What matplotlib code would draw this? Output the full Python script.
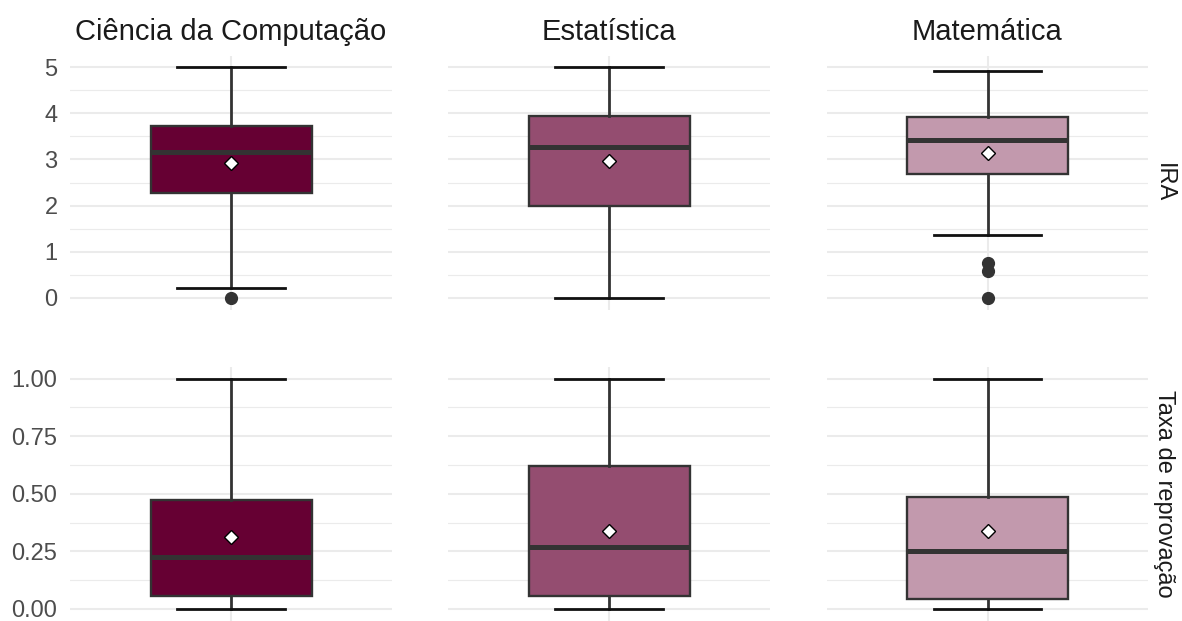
import matplotlib
matplotlib.use("Agg")
import matplotlib.pyplot as plt

plt.rcParams['font.family'] = ['Liberation Sans', 'DejaVu Sans']

cursos = ["Ciência da Computação", "Estatística", "Matemática"]
cores = ["#660033", "#944D70", "#C299AD"]
variaveis = ["IRA", "Taxa de reprovação"]

# IRA summary per course
ira_q1 = [2.27, 1.99, 2.69]
ira_med = [3.17, 3.27, 3.41]
ira_q3 = [3.72, 3.94, 3.92]
ira_whislo = [0.21, 0.0, 1.36]
ira_whishi = [5.0, 5.0, 4.91]
ira_mean = [2.92, 2.97, 3.13]
ira_fliers = [[0.0], [], [0.76, 0.59, 0.0]]

# Failure-rate summary per course
taxa_q1 = [0.057, 0.055, 0.045]
taxa_med = [0.227, 0.27, 0.25]
taxa_q3 = [0.473, 0.62, 0.486]
taxa_whislo = [0.0, 0.0, 0.0]
taxa_whishi = [1.0, 1.0, 1.0]
taxa_mean = [0.312, 0.34, 0.34]
taxa_fliers = [[], [], []]

ira_ticks = [0, 1, 2, 3, 4, 5]
ira_ticklabels = ["0", "1", "2", "3", "4", "5"]
taxa_ticks = [0.0, 0.25, 0.5, 0.75, 1.0]
taxa_ticklabels = ["0.00", "0.25", "0.50", "0.75", "1.00"]

W, H = 1182, 621
fig = plt.figure(figsize=(W / 100, H / 100), dpi=100)

col_px = [(70, 392), (448, 770), (827, 1148)]
row_px = [(55.5, 309.5), (367.0, 620.5)]

rows = [
    dict(q1=ira_q1, med=ira_med, q3=ira_q3, lo=ira_whislo, hi=ira_whishi,
         mean=ira_mean, fl=ira_fliers, ticks=ira_ticks, labels=ira_ticklabels,
         lim=(-0.25, 5.25), minor=0.5),
    dict(q1=taxa_q1, med=taxa_med, q3=taxa_q3, lo=taxa_whislo, hi=taxa_whishi,
         mean=taxa_mean, fl=taxa_fliers, ticks=taxa_ticks, labels=taxa_ticklabels,
         lim=(-0.05, 1.05), minor=0.125),
]

grid_col = "#EBEBEB"
for r, (rd, (top, bot)) in enumerate(zip(rows, row_px)):
    for c, (left, right) in enumerate(col_px):
        ax = fig.add_axes([left / W, 1 - bot / H, (right - left) / W, (bot - top) / H])
        ax.set_xlim(0.4, 1.6)
        ax.set_ylim(*rd["lim"])
        for s in ax.spines.values():
            s.set_visible(False)
        # major and minor grid lines
        for t in rd["ticks"]:
            ax.axhline(t, color=grid_col, lw=1.5, zorder=0)
        mt = rd["ticks"][0] + rd["minor"]
        while mt < rd["ticks"][-1]:
            ax.axhline(mt, color=grid_col, lw=0.8, zorder=0)
            mt += 2 * rd["minor"]
        ax.axvline(1, color=grid_col, lw=1.5, zorder=0)

        stats = [dict(med=rd["med"][c], q1=rd["q1"][c], q3=rd["q3"][c],
                      whislo=rd["lo"][c], whishi=rd["hi"][c],
                      mean=rd["mean"][c], fliers=rd["fl"][c])]
        ax.bxp(stats, positions=[1], widths=0.6, capwidths=0.4,
               patch_artist=True, showmeans=True, manage_ticks=False,
               boxprops=dict(facecolor=cores[c], edgecolor="#333333", lw=1.7),
               medianprops=dict(color="#333333", lw=3.6, solid_capstyle="butt"),
               whiskerprops=dict(color="#333333", lw=2.0),
               capprops=dict(color="#111111", lw=2.0),
               meanprops=dict(marker="D", markerfacecolor="white",
                              markeredgecolor="black", markersize=7.5,
                              markeredgewidth=1.0),
               flierprops=dict(marker="o", markerfacecolor="#333333",
                               markeredgecolor="#333333", markersize=8.5))

        ax.set_xticks([])
        if c == 0:
            ax.set_yticks(rd["ticks"])
            ax.set_yticklabels(rd["labels"])
            ax.tick_params(axis="y", length=0, pad=9, labelsize=17,
                           labelcolor="#4D4D4D")
        else:
            ax.set_yticks([])
        if r == 0:
            ax.set_title(cursos[c], fontsize=21, color="#1A1A1A", pad=11)
        if c == 2:
            ax.text(1.0 + 5 / (right - left), 0.5, variaveis[r],
                    transform=ax.transAxes, rotation=-90, va="center",
                    ha="left", fontsize=17, color="#1A1A1A")

fig.savefig("out.png", dpi=100)
